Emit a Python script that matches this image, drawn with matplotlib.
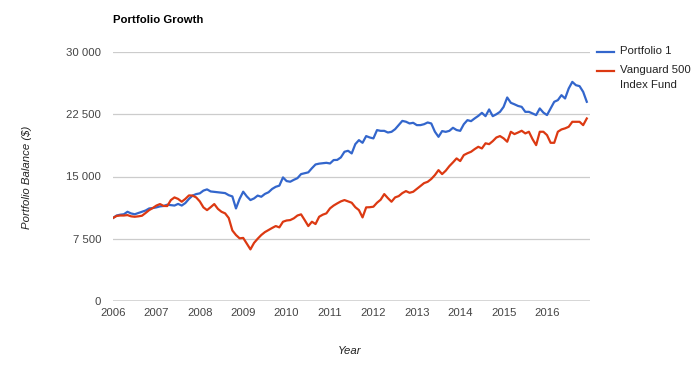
import matplotlib
matplotlib.use("Agg")
import matplotlib.pyplot as plt
from matplotlib.lines import Line2D
import numpy as np

plt.rcParams['font.family'] = ['Liberation Sans', 'DejaVu Sans']

start_year = 2006
series_names = ["Portfolio 1", "Vanguard 500\nIndex Fund"]
series_colors = ["#3366cc", "#dc3912"]

portfolio1 = [
    10000, 10300, 10400, 10450, 10750, 10550, 10450, 10600, 10750, 10900, 11150, 11200,
    11280, 11400, 11450, 11600, 11550, 11500, 11700, 11500, 11800, 12300, 12700, 12880,
    12970, 13300, 13450, 13200, 13150, 13100, 13050, 13000, 12750, 12600, 11150, 12300,
    13170, 12600, 12160, 12360, 12700, 12560, 12900, 13100, 13500, 13760, 13900, 14890,
    14450, 14370, 14600, 14800, 15290, 15400, 15500, 16000, 16450, 16550, 16600, 16650,
    16570, 16980, 17000, 17300, 17980, 18100, 17780, 18900, 19380, 19060, 19870, 19700,
    19590, 20590, 20500, 20500, 20300, 20380, 20700, 21200, 21700, 21600, 21390, 21470,
    21190, 21190, 21300, 21510, 21390, 20400, 19780, 20470, 20380, 20500, 20870, 20600,
    20500, 21300, 21790, 21670, 22000, 22300, 22670, 22270, 23080, 22270, 22500, 22790,
    23390, 24520, 23880, 23700, 23500, 23390, 22790, 22790, 22600, 22400, 23200, 22700,
    22400, 23200, 24000, 24200, 24800, 24400, 25600, 26400, 26000, 25890, 25200, 24000,
]

vanguard500 = [
    10000, 10250, 10300, 10300, 10350, 10200, 10150, 10200, 10270, 10600, 10950, 11200,
    11500, 11680, 11450, 11440, 12160, 12480, 12300, 11960, 12300, 12720, 12700, 12480,
    12000, 11280, 10950, 11300, 11680, 11100, 10750, 10560, 10000, 8500, 7950, 7550,
    7600, 6900, 6220, 7000, 7500, 7950, 8300, 8550, 8800, 9030, 8870, 9550,
    9700, 9750, 9960, 10300, 10440, 9750, 9030, 9550, 9270, 10150, 10400, 10560,
    11160, 11500, 11760, 12000, 12160, 12000, 11840, 11300, 10950, 10070, 11280, 11300,
    11360, 11840, 12200, 12880, 12400, 11960, 12480, 12640, 13000, 13240, 13040, 13160,
    13500, 13850, 14200, 14360, 14700, 15170, 15770, 15290, 15700, 16250, 16700, 17180,
    16860, 17580, 17800, 17980, 18300, 18580, 18380, 19000, 18900, 19260, 19700, 19870,
    19600, 19190, 20390, 20110, 20300, 20510, 20190, 20390, 19500, 18780, 20390, 20390,
    19990, 19060, 19060, 20390, 20670, 20800, 20990, 21590, 21590, 21590, 21190, 21990,
]

y_ticks = [0, 7500, 15000, 22500, 30000]
y_tick_labels = ["0", "7 500", "15 000", "22 500", "30 000"]
x_ticks = list(range(2006, 2017))

FS = 8.2

fig = plt.figure(figsize=(7.0, 3.69), dpi=100)
ax = fig.add_axes([113/700, 1 - 301/369, (590.4 - 113)/700, (301 - 52)/369])

t = start_year + np.arange(len(portfolio1)) / 12.0
for vals, col in zip([portfolio1, vanguard500], series_colors):
    ax.plot(t, vals, color=col, lw=1.6, solid_joinstyle='round', zorder=3)

ax.set_xlim(2006, 2017)
ax.set_ylim(0, 30000)
ax.set_yticks(y_ticks)
ax.set_yticklabels(y_tick_labels)
ax.set_xticks(x_ticks)
ax.set_xticklabels([str(x) for x in x_ticks])
for s in ax.spines.values():
    s.set_visible(False)
ax.tick_params(length=0, labelsize=FS, labelcolor="#444444")
ax.tick_params(axis='y', pad=8.5)
ax.tick_params(axis='x', pad=5)
for yv in y_ticks[1:]:
    ax.axhline(yv, color="#cccccc", lw=0.9, zorder=1)
ax.axhline(0, color="#333333", lw=1.0, zorder=2)

fig.text(113/700, 1 - 20/369, "Portfolio Growth", fontsize=FS, fontweight='bold',
         color="#000000", ha='left', va='center')
fig.text(27/700, 1 - 177/369, "Portfolio Balance ($)", fontsize=FS, style='italic',
         color="#222222", rotation=90, ha='center', va='center')
fig.text(350/700, 1 - 351/369, "Year", fontsize=FS, style='italic',
         color="#222222", ha='center', va='center')

# legend
leg_y = [52, 71]
for name, col, yy in zip(series_names, series_colors, leg_y):
    fig.add_artist(Line2D([597/700, 614/700], [1 - yy/369, 1 - yy/369],
                          color=col, lw=1.6, transform=fig.transFigure))
    fig.text(620/700, 1 - (yy - 6)/369, name, fontsize=FS, color="#222222",
             ha='left', va='top', linespacing=1.65)

fig.savefig("out.png", dpi=100)
